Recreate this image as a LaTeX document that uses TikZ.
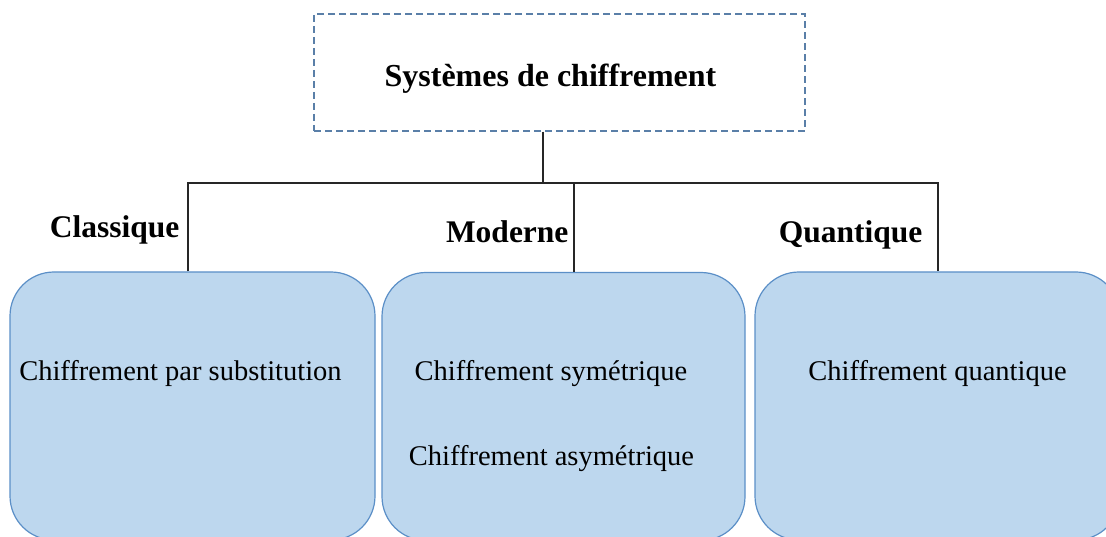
\documentclass[tikz,border=0pt]{standalone}
\usepackage{fontspec}
\setmainfont{Liberation Serif}
\usepackage{xcolor}
\usetikzlibrary{positioning,calc}
\definecolor{boxfill}{HTML}{BDD7EE}
\definecolor{boxline}{HTML}{5B8FC7}
\definecolor{dashline}{HTML}{5A7FA8}
\tikzset{
  family/.style={draw=boxline,fill=boxfill,line width=1.2pt,rounded corners=44pt,minimum width=365pt,minimum height=268pt},
  branch/.style={anchor=base east,font=\fontsize{31.5}{36}\selectfont\bfseries},
  item/.style={anchor=base,font=\fontsize{28.5}{33}\selectfont},
  wire/.style={draw=black!85,line width=1.2pt}
}
\begin{document}
\begin{tikzpicture}[x=1pt,y=-1pt]
    \useasboundingbox (0,0) rectangle (1106,537);
    \clip (0,0) rectangle (1106,537);

    % Root
    \node[draw=dashline,line width=1.2pt,dash pattern=on 7pt off 4pt,minimum width=491pt,minimum height=117pt] (root) at (559.5,72.5) {};
    \node[anchor=base,font=\fontsize{32}{38}\selectfont\bfseries] (rootTxt) at (550.5,87) {Systèmes de chiffrement};

    % Families
    \node[family] (fClass) at (192.5,406) {};
    \node[family,minimum width=363pt] (fMod) at (563.5,406.5) {};
    \node[family] (fQuant) at (937.5,406) {};

    % Tree wires
    \coordinate (split) at (543,183);
    \coordinate (bClass) at (188,183);
    \coordinate (bMod) at (574,183);
    \coordinate (bQuant) at (938,183);
    \draw[wire] (root.south -| split) -- (split);
    \draw[wire] (bClass |- fClass.north) -- (bClass) -- (bQuant) -- (bQuant |- fQuant.north);
    \draw[wire] (bMod) -- (bMod |- fMod.north);

    % Branch names
    \node[branch] (lClass) at (183,238) {Classique};
    \node[branch] (lMod) at (572,243) {Moderne};
    \node[branch] (lQuant) at (926,243) {Quantique};

    % Contents
    \node[item] (tSubst) at (180.5,381) {Chiffrement par substitution};
    \node[item] (tSym) at (551,381) {Chiffrement symétrique};
    \node[item] (tAsym) at (551.5,465) {Chiffrement asymétrique};
    \node[item] (tQuant) at (937.5,381) {Chiffrement quantique};
\end{tikzpicture}
\end{document}
